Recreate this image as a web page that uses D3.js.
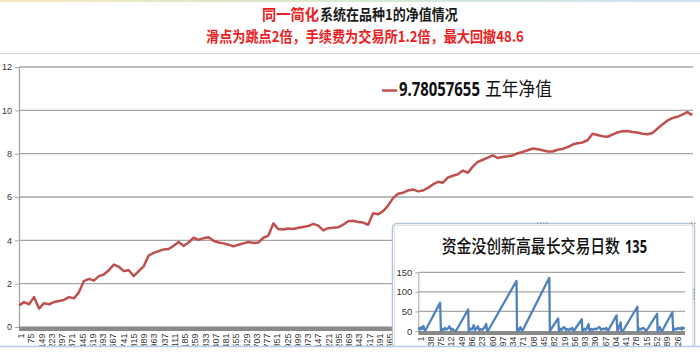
<!DOCTYPE html>
<html><head><meta charset="utf-8">
<script src="https://cdn.jsdelivr.net/npm/d3@7"></script>
<style>html,body{margin:0;padding:0;background:#fff;overflow:hidden}</style>
</head><body><svg id="c" width="700" height="354"></svg>
<script>
// ---------- data ----------
const titleRed = "同一简化";
const titleBlack = "系统在品种1的净值情况";
const subtitle = "滑点为跳点2倍，手续费为交易所1.2倍，最大回撤48.6";
const legendValue = "9.78057655";
const legendName = "五年净值";
const insetTitle = "资金没创新高最长交易日数";
const insetTitleNum = "135";

// main series: net value, read every 36 bars out of 4866
const netBarCount = 4866;
const netSampleStep = 36;
const netValue = [
 1.00,1.15,1.05,1.38,0.85,1.10,1.05,1.15,1.20,1.25,
 1.38,1.32,1.60,2.12,2.22,2.14,2.35,2.42,2.62,2.88,
 2.78,2.58,2.62,2.35,2.58,2.80,3.30,3.42,3.50,3.58,
 3.60,3.75,3.92,3.74,3.90,4.12,4.02,4.10,4.14,3.98,
 3.90,3.86,3.80,3.72,3.80,3.86,3.92,3.88,3.90,4.12,
 4.22,4.78,4.52,4.50,4.55,4.52,4.58,4.62,4.66,4.76,
 4.68,4.46,4.56,4.58,4.60,4.72,4.88,4.90,4.85,4.82,
 4.72,5.25,5.20,5.35,5.60,5.95,6.15,6.20,6.30,6.35,
 6.26,6.30,6.42,6.58,6.70,6.66,6.90,6.98,7.05,7.22,
 7.12,7.40,7.62,7.72,7.82,7.92,7.80,7.85,7.88,7.92,
 8.02,8.08,8.16,8.24,8.20,8.16,8.10,8.10,8.18,8.22,
 8.30,8.42,8.48,8.52,8.62,8.92,8.86,8.80,8.78,8.88,
 8.98,9.04,9.05,9.00,8.98,8.92,8.90,8.95,9.15,9.35,
 9.52,9.64,9.70,9.80,9.92,9.78057655];
const netYTicks = [0,2,4,6,8,10,12];
const netXTickLabels = [1,75,149,223,297,371,445,519,593,667,741,815,889,963,1037,1111,1185,1259,1333,1407,1481,1555,1629,1703,1777,1851,1925,1999,2073,2147,2221,2295,2369,2443,2517,2591,2665,2739,2813,2887,2961,3035,3109,3183,3257,3331,3405,3479,3553,3627,3701,3775,3849,3923,3997,4071,4145,4219,4293,4367,4441,4515,4589,4663,4737,4811];

// inset series: days without new high (corner points)
const ddCount = 960;
const ddIndex = [1,5,8,12,15,19,23,25,79,82,87,92,96,101,106,113,118,123,128,136,180,182,188,194,200,205,210,215,220,224,230,238,245,248,251,354,356,361,364,368,372,375,472,474,504,507,512,517,521,526,531,536,541,546,550,555,560,589,591,599,603,608,613,617,623,629,635,641,647,653,659,665,671,677,683,714,717,721,729,731,737,789,791,797,803,809,815,821,860,862,867,870,875,878,915,918,924,930,936,942,948,950,955,960];
const ddDays = [3,8,4,10,6,13,2,0,72,0,5,3,8,4,6,12,3,6,2,0,55,0,6,4,15,3,6,12,2,5,3,8,18,2,0,128,0,6,3,10,3,0,136,0,32,0,6,3,8,10,3,5,2,6,4,8,0,30,0,6,3,8,18,0,5,3,6,4,8,10,3,6,4,8,0,40,0,6,22,0,0,62,0,6,4,8,5,0,44,0,8,10,0,0,48,0,6,4,8,5,9,4,8,6];
const ddYTicks = [0,50,100,150];
const ddXTickLabels = [1,38,75,112,149,186,223,260,297,334,371,408,445,482,519,556,593,630,667,704,741,778,815,852,889,926];

// ---------- drawing ----------
const svg = d3.select("#c");
const fontNum = "'Liberation Sans Narrow','Liberation Sans',Arial,sans-serif";
const fontCJK = "'Noto Sans CJK SC','Noto Sans',sans-serif";
const gridColor = "#a6a6a6";
const defs = svg.append("defs");

const tg = defs.append("linearGradient").attr("id","topg");
[["0%","#f3e6b8"],["50%","#d6ead2"],["100%","#cfe0f2"]].forEach(s=>tg.append("stop").attr("offset",s[0]).attr("stop-color",s[1]));
svg.append("rect").attr("x",0).attr("y",0).attr("width",700).attr("height",2).attr("fill","url(#topg)");

defs.append("clipPath").attr("id","lblclip").append("rect").attr("x",0).attr("y",0).attr("width",700).attr("height",346);

// text squeezed horizontally to span [x0, x1]
function fitText(parent, str, x0, x1, yb, size, opts) {
  const t = parent.append("text").attr("x",0).attr("y",0)
    .attr("font-family",opts.family||fontCJK).attr("font-size",size)
    .attr("font-weight",opts.weight||"normal").attr("fill",opts.fill||"#111").text(str);
  const len = t.node().getComputedTextLength() || (x1-x0);
  t.attr("transform",`translate(${x0},${yb}) scale(${(x1-x0)/len},1)`);
  return t;
}

// titles
fitText(svg, titleRed, 262, 319, 19.5, 15, {weight:"bold", fill:"#ee1d23"});
fitText(svg, titleBlack, 320, 458, 19.5, 15, {weight:"bold", fill:"#1a1a1a"});
fitText(svg, subtitle, 206, 524, 41.5, 15, {weight:"bold", fill:"#ee1d23"});
svg.append("line").attr("x1",0).attr("x2",700).attr("y1",53.5).attr("y2",53.5)
  .attr("stroke","#d4d4d4").attr("stroke-width",1.2);

// ---- main chart ----
const x = d3.scaleLinear().domain([0.5, netBarCount+0.5]).range([19, 693]);
const y = d3.scaleLinear().domain([0,12]).range([327,67]);
const main = svg.append("g");

main.selectAll("line.grid").data(netYTicks.filter(d=>d>0)).join("line")
  .attr("x1",x.range()[0]).attr("x2",x.range()[1])
  .attr("y1",d=>y(d)).attr("y2",d=>y(d))
  .attr("stroke",gridColor).attr("stroke-width",1.3);

const ya = main.append("g").attr("transform",`translate(${x.range()[0]},0)`)
  .call(d3.axisLeft(y).tickValues(netYTicks).tickSize(4).tickPadding(3).tickSizeOuter(0));
ya.select(".domain").attr("stroke",gridColor).attr("stroke-width",1.3);
ya.selectAll(".tick line").attr("stroke",gridColor);
ya.selectAll("text").attr("font-family",fontNum).attr("font-size",9).attr("fill","#333");

main.append("rect").attr("x",x.range()[0]).attr("width",x.range()[1]-x.range()[0])
  .attr("y",y(0)-0.5).attr("height",4.5).attr("fill","#8a8a8a");

main.append("path").datum(netValue)
  .attr("d", d3.line().x((d,i)=>x(1+i*netSampleStep)).y(d=>y(d)))
  .attr("fill","none").attr("stroke","#c0504d").attr("stroke-width",2.5)
  .attr("stroke-linejoin","round");

const xa = main.append("g").attr("clip-path","url(#lblclip)")
  .append("g").attr("transform",`translate(1.5,${y(0)+6.5})`)
  .call(d3.axisBottom(x).tickValues(netXTickLabels).tickSize(0).tickSizeOuter(0).tickFormat(d3.format("d")));
xa.select(".domain").remove();
xa.selectAll("text").attr("transform","rotate(-90)").attr("x",0).attr("y",0).attr("dy","0.35em")
  .attr("text-anchor","end").attr("font-family","'Liberation Sans',Arial,sans-serif").attr("font-size",9).attr("fill","#333");

// legend
main.append("line").attr("x1",382).attr("x2",397).attr("y1",90.5).attr("y2",90.5)
  .attr("stroke","#c0504d").attr("stroke-width",2.5);
fitText(main, legendValue, 399, 480, 96, 20, {weight:"bold", family:"'Noto Sans',sans-serif"});
fitText(main, legendName, 485, 552, 96, 19, {});

// ---- inset chart ----
const inset = svg.append("g");
inset.append("rect").attr("x",392.5).attr("y",223.5).attr("width",302).attr("height",150).attr("rx",4)
  .attr("fill","#fff").attr("stroke","#b5c6da").attr("stroke-width",1.5);
inset.append("rect").attr("x",394.5).attr("y",225.5).attr("width",298).attr("height",150)
  .attr("fill","none").attr("stroke","#e3e3e3").attr("stroke-width",1);
[0,3,6,9].forEach(d=>inset.append("rect").attr("x",537+d).attr("y",222.5).attr("width",1.5).attr("height",1.5).attr("fill","#8a9bb0"));
[0,3,6,9].forEach(d=>inset.append("rect").attr("x",693.5).attr("y",289+d).attr("width",1.5).attr("height",1.5).attr("fill","#8a9bb0"));
[0,3].forEach(d=>inset.append("rect").attr("x",691+d).attr("y",222.5).attr("width",1.5).attr("height",1.5).attr("fill","#8a9bb0"));

fitText(inset, insetTitle, 441.7, 620, 253, 18, {weight:500});
fitText(inset, insetTitleNum, 625, 647, 253, 17, {weight:"bold", family:"'Noto Sans',sans-serif"});

const xi = d3.scaleLinear().domain([0.5, ddCount+0.5]).range([418.3, 685]);
const yi = d3.scaleLinear().domain([0,150]).range([331, 272.3]);

inset.selectAll("line.grid").data(ddYTicks.filter(d=>d>0)).join("line")
  .attr("x1",xi.range()[0]).attr("x2",xi.range()[1])
  .attr("y1",d=>yi(d)).attr("y2",d=>yi(d))
  .attr("stroke",gridColor).attr("stroke-width",1.3);

const yia = inset.append("g").attr("transform",`translate(${xi.range()[0]},0)`)
  .call(d3.axisLeft(yi).tickValues(ddYTicks).tickSize(3).tickPadding(3).tickSizeOuter(0));
yia.select(".domain").attr("stroke",gridColor).attr("stroke-width",1);
yia.selectAll(".tick line").attr("stroke",gridColor);
yia.selectAll("text").attr("font-family",fontNum).attr("font-size",9.5).attr("fill","#333");

inset.append("rect").attr("x",xi.range()[0]).attr("width",xi.range()[1]-xi.range()[0])
  .attr("y",yi(0)).attr("height",4).attr("fill","#8a8a8a");

inset.append("path").datum(ddDays)
  .attr("d", d3.line().x((d,i)=>xi(ddIndex[i])).y(d=>yi(d)))
  .attr("fill","none").attr("stroke","#4f81bd").attr("stroke-width",2.3)
  .attr("stroke-linejoin","round");

const xia = inset.append("g").attr("clip-path","url(#lblclip)")
  .append("g").attr("transform",`translate(1.5,${yi(0)+5.5})`)
  .call(d3.axisBottom(xi).tickValues(ddXTickLabels).tickSize(0).tickSizeOuter(0).tickFormat(d3.format("d")));
xia.select(".domain").remove();
xia.selectAll("text").attr("transform","rotate(-90)").attr("x",0).attr("y",0).attr("dy","0.35em")
  .attr("text-anchor","end").attr("font-family","'Liberation Sans',Arial,sans-serif").attr("font-size",9).attr("fill","#333");

// bottom edge
svg.append("rect").attr("x",0).attr("y",346.5).attr("width",700).attr("height",8).attr("fill","#fff");
svg.append("line").attr("x1",0).attr("x2",700).attr("y1",346.5).attr("y2",346.5)
  .attr("stroke","#b4cde6").attr("stroke-width",1.5);
</script></body></html>
